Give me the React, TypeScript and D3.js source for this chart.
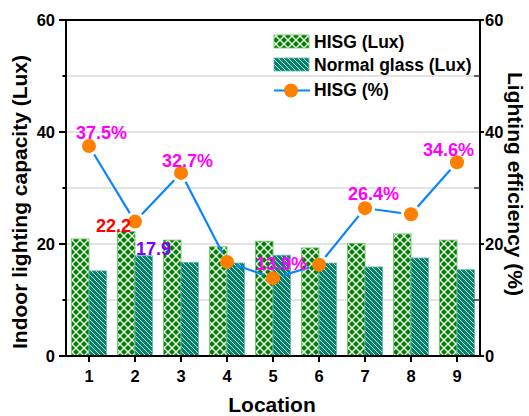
import React from "react";
import * as d3 from "d3";

const locations = ["1", "2", "3", "4", "5", "6", "7", "8", "9"];
const hisgLux = [20.9, 22.2, 20.7, 19.5, 20.5, 19.3, 20.1, 21.8, 20.7];
const normalLux = [15.2, 17.9, 16.7, 16.6, 18.0, 16.6, 15.9, 17.5, 15.4];
const hisgPct = [37.5, 24.0, 32.7, 16.8, 13.9, 16.3, 26.4, 25.3, 34.6];
const leftTicks = [0, 20, 40, 60];
const rightTicks = [0, 20, 40, 60];
const minorTicks = [10, 30, 50];
const gridValues = [10, 20, 30, 40, 50];
const pctLabels = [
  { i: 0, text: "37.5%", color: "#FF00FF" },
  { i: 1, text: "22.2", color: "#FF0000" },
  { i: 2, text: "32.7%", color: "#FF00FF" },
  { i: 4, text: "13.9%", color: "#FF00FF" },
  { i: 6, text: "26.4%", color: "#FF00FF" },
  { i: 8, text: "34.6%", color: "#FF00FF" },
];
const barLabels = [{ i: 1, text: "17.9", color: "#8000FF" }];

const W = 529;
const H = 416;
const M = { left: 66, right: 480, top: 20, bottom: 356 };
const FONT = "'Liberation Sans', Arial, Helvetica, sans-serif";

// label offsets (relative to the anchored mark)
const pctLabelOffsets: Record<number, { dx: number; dy: number; anchor: string }> = {
  0: { dx: -13, dy: -7, anchor: "start" },
  1: { dx: -4, dy: 10, anchor: "end" },
  2: { dx: -19, dy: -6, anchor: "start" },
  4: { dx: -17, dy: -8, anchor: "start" },
  6: { dx: -17, dy: -8, anchor: "start" },
  8: { dx: -34, dy: -6, anchor: "start" },
};

export default function App() {
  const x = d3.scaleBand<string>().domain(locations).range([M.left, M.right]).padding(0);
  const sub = d3
    .scaleBand<string>()
    .domain(["hisg", "normal"])
    .range([0, x.bandwidth()])
    .paddingInner(0)
    .paddingOuter(0.32);
  const yL = d3.scaleLinear().domain([0, 60]).range([M.bottom, M.top]);
  const yR = d3.scaleLinear().domain([0, 60]).range([M.bottom, M.top]);
  const cx = (i: number) => (x(locations[i]) as number) + x.bandwidth() / 2;

  const pts = hisgPct.map((v, i) => [cx(i), yR(v)] as [number, number]);
  const R = 7;
  const gap = R + 3;
  const segs = pts.slice(1).map((p, k) => {
    const a = pts[k];
    const dx = p[0] - a[0];
    const dy = p[1] - a[1];
    const len = Math.hypot(dx, dy);
    const ux = dx / len;
    const uy = dy / len;
    return [a[0] + ux * gap, a[1] + uy * gap, p[0] - ux * gap, p[1] - uy * gap];
  });

  const lineGen = d3.line();

  return (
    <div style={{ position: "fixed", left: 0, top: 0 }}>
      <svg width={W} height={H} style={{ display: "block", background: "#fff" }} fontFamily={FONT}>
        <defs>
          <pattern id="hatchG" patternUnits="userSpaceOnUse" width="8" height="8">
            <rect width="8" height="8" fill="#008000" />
            <path d="M0,0 L8,8 M0,8 L8,0" stroke="#F4FFF4" strokeWidth="1.4" />
          </pattern>
          <pattern id="hatchT" patternUnits="userSpaceOnUse" width="5" height="5">
            <rect width="5" height="5" fill="#008080" />
            <path d="M-1,-1 L6,6 M-1,4 L1,6 M4,-1 L6,1" stroke="#F2F27A" strokeWidth="0.9" />
          </pattern>
        </defs>

        {/* gridlines */}
        {gridValues.map((g) => (
          <line key={g} x1={M.left} x2={M.right} y1={yL(g)} y2={yL(g)} stroke="#C8C8C8" strokeWidth={1.2} />
        ))}

        {/* bars */}
        {locations.map((loc, i) => {
          const x0 = x(loc) as number;
          return (
            <g key={loc}>
              <rect
                x={x0 + (sub("hisg") as number)}
                y={yL(hisgLux[i])}
                width={sub.bandwidth()}
                height={yL(0) - yL(hisgLux[i])}
                fill="url(#hatchG)"
                stroke="#66C266"
                strokeWidth={0.8}
              />
              <rect
                x={x0 + (sub("normal") as number)}
                y={yL(normalLux[i])}
                width={sub.bandwidth()}
                height={yL(0) - yL(normalLux[i])}
                fill="url(#hatchT)"
                stroke="#5FB3B3"
                strokeWidth={0.8}
              />
            </g>
          );
        })}

        {/* line */}
        {segs.map((s, k) => (
          <path
            key={k}
            d={lineGen([
              [s[0], s[1]],
              [s[2], s[3]],
            ]) as string}
            stroke="#0A84FF"
            strokeWidth={2.2}
            fill="none"
          />
        ))}
        {pts.map((p, i) => (
          <circle key={i} cx={p[0]} cy={p[1]} r={R} fill="#FF8000" />
        ))}

        {/* data labels */}
        {pctLabels.map((l) => {
          const o = pctLabelOffsets[l.i];
          return (
            <text
              key={l.text}
              x={pts[l.i][0] + o.dx}
              y={pts[l.i][1] + o.dy}
              textAnchor={o.anchor}
              fill={l.color}
              fontSize={18}
              fontWeight="bold"
            >
              {l.text}
            </text>
          );
        })}
        {barLabels.map((l) => (
          <text
            key={l.text}
            x={(x(locations[l.i]) as number) + (sub("normal") as number) + 1}
            y={yL(normalLux[l.i]) - 1}
            textAnchor="start"
            fill={l.color}
            fontSize={18}
            fontWeight="bold"
          >
            {l.text}
          </text>
        ))}

        {/* axes frame */}
        <line x1={M.left} x2={M.right} y1={M.top} y2={M.top} stroke="#000" strokeWidth={2} />
        <line x1={M.left} x2={M.right} y1={M.bottom} y2={M.bottom} stroke="#000" strokeWidth={2} />
        <line x1={M.left} x2={M.left} y1={M.top} y2={M.bottom} stroke="#000" strokeWidth={2} />
        <line x1={M.right} x2={M.right} y1={M.top} y2={M.bottom} stroke="#000" strokeWidth={2} />

        {/* left ticks */}
        {leftTicks.map((t) => (
          <g key={"l" + t}>
            <line x1={M.left - 7} x2={M.left} y1={yL(t)} y2={yL(t)} stroke="#000" strokeWidth={2} />
            <text x={55} y={yL(t) + 6} textAnchor="end" fontSize={16.5} fontWeight="bold">
              {t}
            </text>
          </g>
        ))}
        {minorTicks.map((t) => (
          <line key={"lm" + t} x1={M.left - 3.5} x2={M.left} y1={yL(t)} y2={yL(t)} stroke="#000" strokeWidth={2} />
        ))}

        {/* right ticks */}
        {rightTicks.map((t) => (
          <g key={"r" + t}>
            <line x1={M.right} x2={M.right + 4} y1={yR(t)} y2={yR(t)} stroke="#000" strokeWidth={2} />
            <text x={485} y={yR(t) + 6} textAnchor="start" fontSize={16.5} fontWeight="bold">
              {t}
            </text>
          </g>
        ))}
        {minorTicks.map((t) => (
          <line key={"rm" + t} x1={M.right - 6} x2={M.right} y1={yR(t)} y2={yR(t)} stroke="#333" strokeWidth={1.5} />
        ))}

        {/* x ticks */}
        {locations.map((loc, i) => (
          <g key={"x" + loc}>
            <line x1={cx(i)} x2={cx(i)} y1={M.bottom} y2={M.bottom + 6} stroke="#000" strokeWidth={2} />
            <text x={cx(i)} y={382} textAnchor="middle" fontSize={16.5} fontWeight="bold">
              {loc}
            </text>
          </g>
        ))}

        {/* axis titles */}
        <text x={272} y={412} textAnchor="middle" fontSize={21} fontWeight="bold">
          Location
        </text>
        <text
          transform="translate(27,202) rotate(-90)"
          textAnchor="middle"
          fontSize={21}
          fontWeight="bold"
        >
          Indoor lighting capacity (Lux)
        </text>
        <text
          transform="translate(508,184) rotate(90)"
          textAnchor="middle"
          fontSize={21}
          fontWeight="bold"
        >
          Lighting efficiency (%)
        </text>

        {/* legend */}
        <rect x={274} y={35} width={35} height={13} fill="url(#hatchG)" stroke="#66C266" strokeWidth={0.8} />
        <text x={314} y={48} fontSize={17.5} fontWeight="bold">
          HISG (Lux)
        </text>
        <rect x={274} y={58} width={35} height={13} fill="url(#hatchT)" stroke="#5FB3B3" strokeWidth={0.8} />
        <text x={314} y={71} fontSize={17.5} fontWeight="bold">
          Normal glass (Lux)
        </text>
        <line x1={274} x2={310} y1={90.5} y2={90.5} stroke="#0A84FF" strokeWidth={2.2} />
        <circle cx={291} cy={90.5} r={R} fill="#FF8000" />
        <text x={314} y={96} fontSize={17.5} fontWeight="bold">
          HISG (%)
        </text>
      </svg>
    </div>
  );
}
